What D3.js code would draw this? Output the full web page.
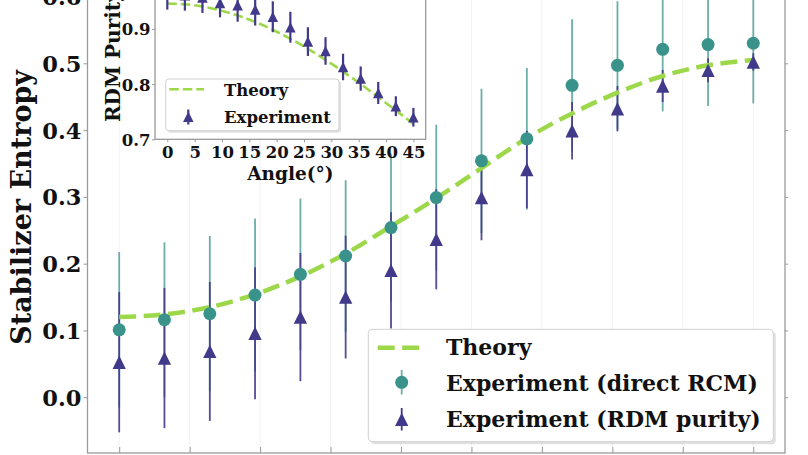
<!DOCTYPE html>
<html>
<head>
<meta charset="utf-8">
<script src="https://cdn.jsdelivr.net/npm/d3@7"></script>
<style>
  html, body { margin: 0; padding: 0; background: #fff; }
  svg { display: block; }
  text { font-family: "DejaVu Serif", serif; font-weight: bold; fill: #111; }
</style>
</head>
<body>
<svg id="chart" width="808" height="455"></svg>
<script>
// ---------------- data ----------------
const angles = [0, 3.21, 6.43, 9.64, 12.86, 16.07, 19.29, 22.5, 25.71, 28.93, 32.14, 35.36, 38.57, 41.79, 45];
const theoryEntropy = [0.120, 0.124, 0.135, 0.154, 0.181, 0.215, 0.256, 0.298, 0.343, 0.388, 0.425, 0.456, 0.481, 0.497, 0.505];
const rcmEntropy = [0.101, 0.116, 0.125, 0.153, 0.184, 0.2115, 0.254, 0.299, 0.354, 0.387, 0.467, 0.497, 0.521, 0.528, 0.530];
const rcmError = [0.1165, 0.116, 0.1165, 0.1145, 0.1135, 0.1135, 0.111, 0.109, 0.108, 0.106, 0.099, 0.096, 0.093, 0.092, 0.090];
const purityEntropy = [0.0524, 0.0587, 0.0686, 0.0958, 0.120, 0.150, 0.190, 0.2365, 0.299, 0.341, 0.399, 0.432, 0.466, 0.4895, 0.502];
const purityEntropyError = [0.105, 0.105, 0.104, 0.099, 0.096, 0.092, 0.087, 0.075, 0.064, 0.058, 0.043, 0.034, 0.024, 0.018, 0.013];
const theoryPurity = [0.946, 0.9446, 0.9405, 0.9338, 0.9244, 0.9126, 0.8984, 0.8821, 0.8639, 0.8440, 0.8226, 0.8000, 0.7765, 0.7524, 0.728];
const purity = [0.963, 0.961, 0.957, 0.947, 0.943, 0.935, 0.922, 0.903, 0.877, 0.860, 0.831, 0.810, 0.784, 0.760, 0.740];
const purityError = [0.028, 0.028, 0.028, 0.026, 0.030, 0.029, 0.028, 0.028, 0.026, 0.025, 0.024, 0.022, 0.020, 0.018, 0.017];

const mainYTicks = [0.0, 0.1, 0.2, 0.3, 0.4, 0.5, 0.6];
const xTicks = [0, 5, 10, 15, 20, 25, 30, 35, 40, 45];
const insetYTicks = [0.7, 0.8, 0.9, 1.0];
const legendLabels = ["Theory", "Experiment (direct RCM)", "Experiment (RDM purity)"];
const insetLegendLabels = ["Theory", "Experiment"];
const yLabel = "Stabilizer Entropy";
const insetXLabel = "Angle(°)";
const insetYLabel = "RDM Purity";

// ---------------- style ----------------
const GREEN = "#9dd84a", TEAL = "#3a938b", PURPLE = "#41398a", SPINE = "#9a9a9a";

const svg = d3.select("#chart");
svg.append("rect").attr("width", 808).attr("height", 455).attr("fill", "#fff");

const main = {left: 87.5, right: 785, top: -38.2, bottom: 453};
const x = d3.scaleLinear().domain([-2.25, 47.25]).range([main.left, main.right]);
const y = d3.scaleLinear().domain([-0.0835, 0.652]).range([main.bottom, main.top]);

const rows = angles.map((a, i) => ({a, th: theoryEntropy[i], c: rcmEntropy[i], ce: rcmError[i],
  p: purityEntropy[i], pe: purityEntropyError[i], tp: theoryPurity[i], ip: purity[i], ie: purityError[i]}));

const tri = h => `M0,${-h/2}L${h/2},${h/2}L${-h/2},${h/2}Z`;

// gridlines
const g = svg.append("g");
g.selectAll("line.grid").data(xTicks).join("line")
  .attr("x1", d => x(d)).attr("x2", d => x(d)).attr("y1", main.top).attr("y2", main.bottom)
  .attr("stroke", "#f2f2f2").attr("stroke-width", 1);

// error bars
g.selectAll("line.ce").data(rows).join("line")
  .attr("x1", d => x(d.a)).attr("x2", d => x(d.a))
  .attr("y1", d => y(d.c - d.ce)).attr("y2", d => y(d.c + d.ce))
  .attr("stroke", TEAL).attr("stroke-opacity", 0.75).attr("stroke-width", 1.8);
g.selectAll("line.pe").data(rows).join("line")
  .attr("x1", d => x(d.a)).attr("x2", d => x(d.a))
  .attr("y1", d => y(d.p - d.pe)).attr("y2", d => y(d.p + d.pe))
  .attr("stroke", PURPLE).attr("stroke-opacity", 0.9).attr("stroke-width", 1.8);

// theory
g.append("path").datum(rows)
  .attr("d", d3.line().x(d => x(d.a)).y(d => y(d.th)).curve(d3.curveMonotoneX))
  .attr("fill", "none").attr("stroke", GREEN).attr("stroke-width", 4.5).attr("stroke-dasharray", "17,7.5");

// markers
g.selectAll("circle.c").data(rows).join("circle")
  .attr("cx", d => x(d.a)).attr("cy", d => y(d.c)).attr("r", 6.5).attr("fill", TEAL);
g.selectAll("path.t").data(rows).join("path")
  .attr("d", tri(13.3)).attr("transform", d => `translate(${x(d.a)},${y(d.p)})`).attr("fill", PURPLE);

// spines
svg.append("rect").attr("x", main.left).attr("y", main.top).attr("width", main.right - main.left)
  .attr("height", main.bottom - main.top).attr("fill", "none").attr("stroke", SPINE).attr("stroke-width", 1.3);

// axes
const yAx = svg.append("g").attr("transform", `translate(${main.left},0)`)
  .call(d3.axisLeft(y).tickValues(mainYTicks).tickFormat(d3.format(".1f")).tickSize(4).tickPadding(2));
yAx.select(".domain").remove();
yAx.selectAll("line").attr("stroke", SPINE);
yAx.selectAll("text").style("font-size", "22.5px").attr("dy", "0.36em").attr("fill", "#111");

const yAxR = svg.append("g").attr("transform", `translate(${main.right},0)`)
  .call(d3.axisRight(y).tickValues(mainYTicks).tickFormat("").tickSize(3));
yAxR.select(".domain").remove();
yAxR.selectAll("line").attr("stroke", SPINE);

// bottom axis: tick labels lie below the visible crop, so only tick marks are drawn
const xAx = svg.append("g").attr("transform", `translate(0,${main.bottom})`)
  .call(d3.axisBottom(x).tickValues(xTicks).tickFormat("").tickSizeInner(-6).tickSizeOuter(0));
xAx.select(".domain").remove();
xAx.selectAll("line").attr("stroke", SPINE);

svg.append("text").attr("transform", `translate(31,${(main.top + main.bottom) / 2}) rotate(-90)`)
  .attr("text-anchor", "middle").style("font-size", "27px").text(yLabel);

// ---------------- inset ----------------
const ins = {left: 155, right: 425.7, top: -26.3, bottom: 139.3};
const xi = d3.scaleLinear().domain([-2.25, 47.25]).range([ins.left, ins.right]);
const yi = d3.scaleLinear().domain([0.7, 1.0]).range([ins.bottom, ins.top]);
const gi = svg.append("g");
gi.append("rect").attr("x", ins.left).attr("y", ins.top).attr("width", ins.right - ins.left)
  .attr("height", ins.bottom - ins.top).attr("fill", "#fff");

gi.append("path").datum(rows)
  .attr("d", d3.line().x(d => xi(d.a)).y(d => yi(d.tp)).curve(d3.curveMonotoneX))
  .attr("fill", "none").attr("stroke", GREEN).attr("stroke-width", 2.6).attr("stroke-dasharray", "9.5,4");
gi.selectAll("line.ie").data(rows).join("line")
  .attr("x1", d => xi(d.a)).attr("x2", d => xi(d.a))
  .attr("y1", d => yi(d.ip - d.ie)).attr("y2", d => yi(d.ip + d.ie))
  .attr("stroke", PURPLE).attr("stroke-width", 2.2);
gi.selectAll("path.it").data(rows).join("path")
  .attr("d", tri(10.5)).attr("transform", d => `translate(${xi(d.a)},${yi(d.ip)})`).attr("fill", PURPLE);

gi.append("rect").attr("x", ins.left).attr("y", ins.top).attr("width", ins.right - ins.left)
  .attr("height", ins.bottom - ins.top).attr("fill", "none").attr("stroke", SPINE).attr("stroke-width", 1.3);

const yiAx = gi.append("g").attr("transform", `translate(${ins.left},0)`)
  .call(d3.axisLeft(yi).tickValues(insetYTicks).tickFormat(d3.format(".1f")).tickSize(3).tickPadding(1.5));
yiAx.select(".domain").remove();
yiAx.selectAll("line").attr("stroke", SPINE);
yiAx.selectAll("text").style("font-size", "16.5px").attr("dy", "0.36em").attr("fill", "#111");

const xiAx = gi.append("g").attr("transform", `translate(0,${ins.bottom})`)
  .call(d3.axisBottom(xi).tickValues(xTicks).tickSize(3).tickPadding(4));
xiAx.select(".domain").remove();
xiAx.selectAll("line").attr("stroke", SPINE);
xiAx.selectAll("text").style("font-size", "16.5px").attr("fill", "#111");

gi.append("text").attr("x", (ins.left + ins.right) / 2).attr("y", 179.5)
  .attr("text-anchor", "middle").style("font-size", "18.5px").text(insetXLabel);
gi.append("text").attr("transform", `translate(120,122) rotate(-90)`)
  .attr("text-anchor", "start").style("font-size", "20px").text(insetYLabel);

// inset legend
const il = gi.append("g");
il.append("rect").attr("x", 167.7).attr("y", 81).attr("width", 173.3).attr("height", 51.7).attr("rx", 3)
  .attr("fill", "#000").attr("fill-opacity", 0.12);
il.append("rect").attr("x", 165.7).attr("y", 79).attr("width", 173.3).attr("height", 51.7).attr("rx", 3)
  .attr("fill", "#fff").attr("stroke", "#d0d0d0").attr("stroke-width", 1);
il.append("line").attr("x1", 169.3).attr("x2", 204).attr("y1", 89.3).attr("y2", 89.3)
  .attr("stroke", GREEN).attr("stroke-width", 2.6).attr("stroke-dasharray", "9.5,4");
il.append("line").attr("x1", 188.3).attr("x2", 188.3).attr("y1", 109.5).attr("y2", 124.5)
  .attr("stroke", PURPLE).attr("stroke-width", 2.2);
il.append("path").attr("d", tri(10.5)).attr("transform", "translate(188.3,116.7)").attr("fill", PURPLE);
il.selectAll("text").data(insetLegendLabels).join("text")
  .attr("x", 224).attr("y", (d, i) => 95.5 + i * 27.2).style("font-size", "16.5px").text(d => d);

// ---------------- main legend ----------------
const lg = svg.append("g");
lg.append("rect").attr("x", 370.8).attr("y", 331.8).attr("width", 405).attr("height", 112.4).attr("rx", 4)
  .attr("fill", "#000").attr("fill-opacity", 0.12);
lg.append("rect").attr("x", 368.3).attr("y", 329.3).attr("width", 405).attr("height", 112.4).attr("rx", 4)
  .attr("fill", "#fff").attr("stroke", "#d0d0d0").attr("stroke-width", 1);
lg.append("line").attr("x1", 377.7).attr("x2", 426.7).attr("y1", 347.7).attr("y2", 347.7)
  .attr("stroke", GREEN).attr("stroke-width", 4.5).attr("stroke-dasharray", "17,7.5");
lg.append("line").attr("x1", 401.7).attr("x2", 401.7).attr("y1", 370).attr("y2", 394.5)
  .attr("stroke", TEAL).attr("stroke-opacity", 0.75).attr("stroke-width", 1.8);
lg.append("circle").attr("cx", 401.7).attr("cy", 382.3).attr("r", 6.5).attr("fill", TEAL);
lg.append("line").attr("x1", 401.7).attr("x2", 401.7).attr("y1", 408).attr("y2", 430.5)
  .attr("stroke", PURPLE).attr("stroke-width", 1.8);
lg.append("path").attr("d", tri(13.3)).attr("transform", "translate(401.7,419.3)").attr("fill", PURPLE);
lg.selectAll("text").data(legendLabels).join("text")
  .attr("x", 446).attr("y", (d, i) => 354.8 + i * 35.85).style("font-size", "22px").text(d => d);
</script>
</body>
</html>
